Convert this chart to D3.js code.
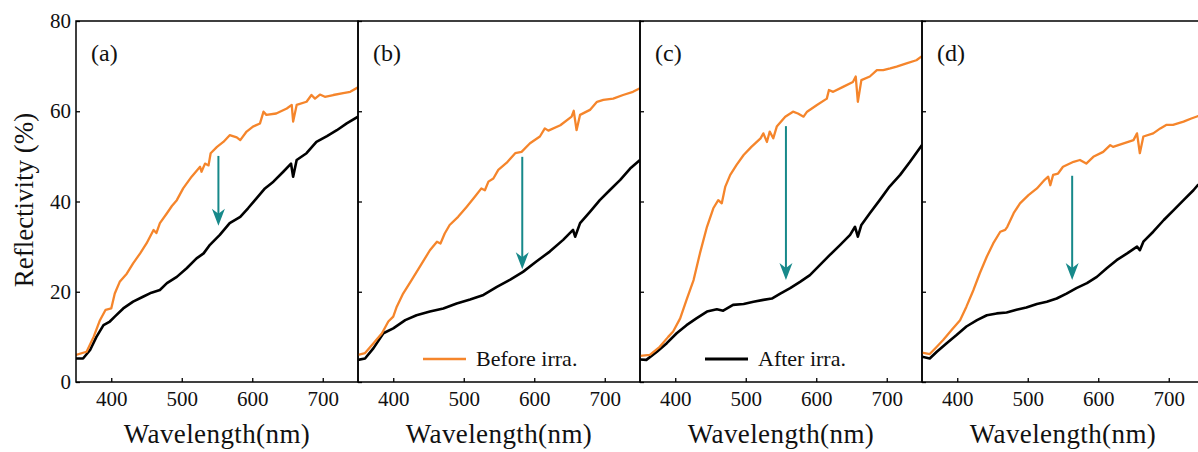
<!DOCTYPE html>
<html><head><meta charset="utf-8">
<script src="https://cdn.jsdelivr.net/npm/d3@7"></script>
<style>body{margin:0;background:#fff}svg{display:block}text{font-family:"Liberation Serif","Times New Roman",serif;fill:#111}</style>
</head><body><svg id="c" width="1198" height="452"></svg>
<script>
const panelLabels = ["(a)","(b)","(c)","(d)"];
const xTicks = [400,500,600,700];
const yTicks = [0,20,40,60,80];
const seriesNames = ["Before irra.","After irra."];

const beforeA = [[350,6.0],[365,6.7],[375,10],[384,13.7],[392,16],[400,16.3],[405,19.6],[412,22.2],[422,24],[431,26.3],[441,28.5],[450,30.7],[460,33.7],[464,33],[469,35.2],[479,37.4],[486,39],[493,40.3],[502,42.9],[514,45.5],[526,47.7],[528,46.6],[533,48.4],[538,48],[541,50.7],[550,52.1],[559,53.2],[568,54.7],[578,54.2],[583,53.6],[592,55.5],[601,56.6],[611,57.3],[616,59.9],[620,59.2],[634,59.5],[649,60.6],[656,61.4],[658,57.7],[663,61.4],[677,62.1],[684,63.6],[689,62.8],[696,63.7],[703,63.2],[715,63.6],[729,64],[739,64.3],[750,65.3]];
const afterA = [[350,5.2],[360,5.2],[370,7.1],[379,10],[389,12.6],[398,13.4],[405,14.5],[417,16.3],[431,17.8],[445,18.9],[457,19.8],[469,20.4],[479,21.9],[493,23.3],[507,25.2],[521,27.4],[531,28.5],[540,30.4],[554,32.6],[568,35.2],[583,36.6],[594,38.5],[606,40.7],[618,42.9],[630,44.4],[644,46.6],[655,48.4],[658,45.5],[663,49.2],[677,50.7],[691,53.2],[706,54.5],[720,55.8],[734,57.3],[750,58.8]];

const beforeB = [[350,6.0],[360,6.4],[372,8.6],[384,10.8],[393,13.4],[400,14.5],[405,16.7],[414,19.6],[426,22.6],[438,25.6],[452,29.2],[462,31.1],[467,30.7],[473,32.9],[480,34.8],[492,36.6],[504,38.8],[516,41.1],[525,42.9],[530,42.5],[535,44.4],[542,45.1],[549,47],[561,48.6],[573,50.7],[582,51],[594,52.9],[608,54.4],[615,56.2],[620,55.7],[637,56.9],[653,58.8],[656,60.1],[660,55.8],[665,59.2],[679,60.3],[689,62.1],[698,62.5],[712,62.8],[726,63.6],[740,64.3],[750,65.1]];
const afterB = [[350,4.9],[360,5.2],[372,7.5],[386,10.8],[400,11.9],[417,13.7],[433,14.8],[452,15.6],[471,16.3],[490,17.4],[509,18.3],[528,19.3],[547,21.1],[566,22.7],[584,24.4],[603,26.7],[622,28.9],[641,31.5],[655,33.7],[658,32.2],[665,35.2],[679,37.7],[693,40.3],[707,42.5],[722,44.8],[736,47.3],[750,49.2]];

const beforeC = [[350,5.8],[364,6.0],[378,7.8],[390,10],[397,11.2],[407,14.1],[416,18.2],[426,22.6],[435,28.5],[445,34.4],[454,38.5],[461,40.3],[466,39.6],[471,43.3],[478,45.9],[487,48.1],[497,50.3],[508,52.1],[521,54],[525,55.1],[530,53.2],[534,55.5],[539,54],[544,56.6],[556,58.8],[567,59.9],[574,59.5],[582,58.8],[587,59.9],[601,61.4],[615,62.8],[618,64.7],[624,64.3],[638,65.4],[652,66.5],[656,67.7],[659,62.1],[664,66.9],[676,67.7],[686,69.1],[695,69.1],[705,69.5],[714,69.9],[728,70.6],[742,71.3],[750,72.2]];
const afterC = [[350,5.0],[359,4.9],[374,6.7],[388,8.6],[402,10.8],[416,12.6],[430,14.1],[445,15.6],[459,16.1],[468,15.8],[482,17.1],[497,17.3],[511,17.8],[525,18.2],[537,18.5],[549,19.6],[563,20.8],[577,22.2],[591,23.7],[605,25.9],[619,28.1],[634,30.4],[648,32.6],[655,34.4],[659,32.2],[664,34.8],[676,37.4],[690,40.3],[704,43.3],[719,45.9],[733,48.8],[750,52.5]];

const beforeD = [[350,6.5],[361,6.2],[371,7.8],[380,9.3],[392,11.5],[404,13.7],[413,16.7],[423,20.4],[432,24.1],[442,27.8],[451,30.7],[461,33.3],[468,33.7],[471,34.4],[480,37.4],[489,39.6],[501,41.4],[513,42.9],[524,44.8],[529,45.5],[532,43.6],[536,45.9],[543,46.2],[550,47.7],[565,48.8],[574,49.2],[583,48.4],[593,49.9],[607,51],[617,52.5],[621,52.1],[636,52.9],[650,53.6],[655,55.1],[659,50.7],[664,54.4],[678,55.1],[688,56.2],[697,57],[706,57],[721,57.7],[732,58.4],[741,58.9],[750,59.3]];
const afterD = [[350,5.6],[361,5.2],[371,6.7],[385,8.6],[399,10.4],[413,12.3],[428,13.7],[442,14.8],[456,15.2],[470,15.4],[484,16],[498,16.5],[513,17.3],[527,17.8],[541,18.5],[555,19.6],[569,20.8],[584,21.9],[598,23.3],[612,25.2],[626,27],[641,28.5],[655,30],[659,29.2],[664,31.1],[678,33.3],[693,35.9],[707,38.1],[721,40.3],[735,42.5],[741,43.6],[750,44.6]];

const arrowX = [552, 583, 557, 563];
const arrowFrom = [50.1, 49.9, 56.7, 45.7];
const arrowTo = [34.6, 25.0, 22.6, 22.6];

const beforeSets = [beforeA, beforeB, beforeC, beforeD];
const afterSets = [afterA, afterB, afterC, afterD];

const svg = d3.select("#c");
const W = 282, plotTop = 21, plotBottom = 382, left0 = 76;
const orange = "#f5852b", teal = "#17898a";
const x = d3.scaleLinear().domain([350,750]).range([0,W]);
const y = d3.scaleLinear().domain([0,80]).range([plotBottom, plotTop]);
const line = d3.line().x(d=>x(d[0])).y(d=>y(d[1]));

const defs = svg.append("defs");
panelLabels.forEach((lab,i)=>{
  const L = left0 + i*W;
  defs.append("clipPath").attr("id","cp"+i).append("rect")
    .attr("x",0).attr("y",plotTop).attr("width",W).attr("height",plotBottom-plotTop);
  const g = svg.append("g").attr("transform",`translate(${L},0)`);
  const gc = g.append("g").attr("clip-path",`url(#cp${i})`);
  gc.append("path").datum(afterSets[i]).attr("d",line).attr("fill","none")
    .attr("stroke","#000").attr("stroke-width",2.6).attr("stroke-linejoin","round");
  gc.append("path").datum(beforeSets[i]).attr("d",line).attr("fill","none")
    .attr("stroke",orange).attr("stroke-width",2.3).attr("stroke-linejoin","round");

  const ax = x(arrowX[i]), y1 = y(arrowFrom[i]), y2 = y(arrowTo[i]);
  g.append("line").attr("x1",ax).attr("x2",ax).attr("y1",y1).attr("y2",y2-8)
    .attr("stroke",teal).attr("stroke-width",2);
  g.append("path").attr("d",`M${ax},${y2} L${ax-6.5},${y2-17} L${ax},${y2-12} L${ax+6.5},${y2-17} Z`)
    .attr("fill",teal);

  g.append("rect").attr("x",0).attr("y",plotTop).attr("width",W).attr("height",plotBottom-plotTop)
    .attr("fill","none").attr("stroke","#000").attr("stroke-width",1.5);

  const xa = d3.axisBottom(x).tickValues(xTicks).tickSize(-4).tickPadding(8).tickFormat(d3.format("d"));
  const gx = g.append("g").attr("transform",`translate(0,${plotBottom})`).call(xa);
  gx.select(".domain").remove();
  gx.selectAll(".tick line").attr("stroke","#000").attr("stroke-width",1.3);
  gx.selectAll(".tick text").attr("font-size",21).attr("font-family","Liberation Serif").attr("fill","#111").attr("y",8).attr("dy","0.75em");

  const ya = d3.axisLeft(y).tickValues(yTicks).tickSize(-4).tickPadding(5);
  const gy = g.append("g").call(ya);
  gy.select(".domain").remove();
  gy.selectAll(".tick line").attr("stroke","#000").attr("stroke-width",1.3);
  if(i===0){
    gy.selectAll(".tick text").attr("font-size",21).attr("font-family","Liberation Serif").attr("fill","#111").attr("x",-5);
  } else gy.selectAll(".tick text").remove();

  g.append("text").attr("x",15).attr("y",61).attr("font-size",24).text(lab);
  g.append("text").attr("x",W/2).attr("y",443).attr("text-anchor","middle")
    .attr("font-size",27).attr("letter-spacing",0.4).text("Wavelength(nm)");
});

const lg = [{p:1, c:orange, name:seriesNames[0], w:2.5},{p:2, c:"#000", name:seriesNames[1], w:3}];
lg.forEach(o=>{
  const L = left0 + o.p*W;
  svg.append("line").attr("x1",L+65).attr("x2",L+108).attr("y1",359).attr("y2",359)
    .attr("stroke",o.c).attr("stroke-width",o.w);
  svg.append("text").attr("x",L+118).attr("y",366).attr("font-size",22).text(o.name);
});

svg.append("text").attr("transform","translate(33,200) rotate(-90)")
  .attr("text-anchor","middle").attr("font-size",27).text("Reflectivity (%)");
</script></body></html>
